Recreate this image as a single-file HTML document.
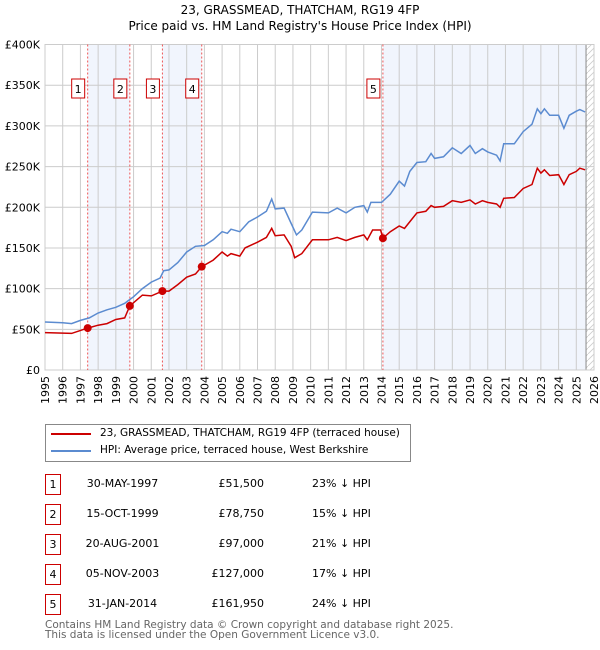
<!DOCTYPE html>
<html><head><meta charset="utf-8">
<style>
body{margin:0;background:#fff;font-family:"DejaVu Sans","Liberation Sans",sans-serif;}
#wrap{position:relative;width:600px;height:650px;overflow:hidden;}
.t{position:absolute;font-size:11px;color:#000;white-space:nowrap;}
.box{position:absolute;width:14px;height:19px;border:1px solid #c00;font-size:11px;text-align:center;line-height:19px;}
</style></head><body>
<div id="wrap">
<div class="t" style="left:0;width:600px;text-align:center;top:2px;font-size:12px;line-height:16px">23, GRASSMEAD, THATCHAM, RG19 4FP<br>Price paid vs. HM Land Registry's House Price Index (HPI)</div>
<svg id="chart" width="600" height="420" style="position:absolute;left:0;top:0"></svg>
<div style="position:absolute;left:45px;top:424px;width:364px;height:36px;border:1px solid #888;">
 <div><div style="position:absolute;left:5px;top:8px;width:40px;height:2px;background:#c00"></div><div class="t" style="left:54px;top:2px;font-size:10.5px">23, GRASSMEAD, THATCHAM, RG19 4FP (terraced house)</div></div>
 <div><div style="position:absolute;left:5px;top:25px;width:40px;height:2px;background:#5b8bd0"></div><div class="t" style="left:54px;top:19px;font-size:10.5px">HPI: Average price, terraced house, West Berkshire</div></div>
</div>
<div id="table"></div>
<div class="t" style="left:45px;top:620px;color:#666;line-height:10px;font-size:10.5px">Contains HM Land Registry data © Crown copyright and database right 2025.<br>This data is licensed under the Open Government Licence v3.0.</div>
</div>
<script>
const hpiYears=[1995,1996,1996.5,1997,1997.5,1998,1998.5,1999,1999.5,2000,2000.5,2001,2001.5,2001.7,2002,2002.5,2003,2003.5,2004,2004.5,2005,2005.3,2005.5,2006,2006.5,2007,2007.5,2007.8,2008,2008.5,2008.9,2009.2,2009.5,2010.1,2011,2011.5,2012,2012.5,2013,2013.2,2013.4,2014,2014.5,2015,2015.3,2015.6,2016,2016.5,2016.8,2017,2017.5,2018,2018.5,2019,2019.3,2019.7,2020,2020.5,2020.7,2020.9,2021.5,2022,2022.5,2022.8,2023,2023.2,2023.5,2024,2024.3,2024.6,2025,2025.2,2025.5];
const hpiValues=[59,58,57,61,64,70,74,77,82,90,100,108,113,122,123,132,145,152,153,160,170,168,173,170,182,188,195,210,198,199,180,166,172,194,193,199,193,200,202,194,206,206,216,232,226,244,255,256,266,260,262,273,266,276,266,272,268,264,257,278,278,293,302,321,315,321,313,313,297,313,318,320,317];
const ppYears=[1995,1996.5,1997.41,1998,1998.5,1999,1999.5,1999.79,2000.5,2001,2001.63,2002,2002.5,2003,2003.5,2003.85,2004.5,2005,2005.3,2005.5,2006,2006.3,2007,2007.5,2007.8,2008,2008.5,2008.9,2009.1,2009.5,2010.1,2011,2011.5,2012,2012.5,2013,2013.2,2013.5,2013.95,2014.08,2014.5,2015,2015.3,2015.7,2016,2016.5,2016.8,2017,2017.5,2018,2018.5,2019,2019.3,2019.7,2020,2020.5,2020.7,2020.9,2021.5,2022,2022.5,2022.8,2023,2023.2,2023.5,2024,2024.3,2024.6,2025,2025.2,2025.5];
const ppValues=[46,45,51.5,55,57,62,64,78.75,92,91,97,97,105,114,118,127,135,145,140,143,140,150,157,163,174,165,166,152,138,143,160,160,163,159,163,166,160,172,172,162,170,177,174,185,193,195,202,200,201,208,206,209,204,208,206,204,200,211,212,223,228,248,242,246,239,240,228,240,244,248,246];
const saleNums=["1","2","3","4","5"];
const saleYears=[1997.41,1999.79,2001.63,2003.85,2014.08];
const saleValues=[51.5,78.75,97,127,161.95];
const saleDates=["30-MAY-1997","15-OCT-1999","20-AUG-2001","05-NOV-2003","31-JAN-2014"];
const salePrices=["£51,500","£78,750","£97,000","£127,000","£161,950"];
const saleDiffs=["23% ↓ HPI","15% ↓ HPI","21% ↓ HPI","17% ↓ HPI","24% ↓ HPI"];
const yTicks=[0,50,100,150,200,250,300,350,400];
const yTickLabels=["£0","£50K","£100K","£150K","£200K","£250K","£300K","£350K","£400K"];
const xTicks=[1995,1996,1997,1998,1999,2000,2001,2002,2003,2004,2005,2006,2007,2008,2009,2010,2011,2012,2013,2014,2015,2016,2017,2018,2019,2020,2021,2022,2023,2024,2025,2026];

const X0=45,X1=594,Y0=370,Y1=44.5,dataEnd=2025.55;
const sx=y=>X0+(y-1995)/(2026-1995)*(X1-X0);
const sy=v=>Y0-v/400*(Y0-Y1);
const NS="http://www.w3.org/2000/svg";
const svg=document.getElementById('chart');
function mk(tag,attrs,name,parent){const e=document.createElementNS(NS,tag);for(const k in attrs)e.setAttribute(k,attrs[k]);


(parent||svg).appendChild(e);return e;}
const defs=mk('defs',{},'defs');
const pat=mk('pattern',{id:'hatch',width:6,height:6,patternUnits:'userSpaceOnUse'},'hatch-pattern',defs);
mk('path',{d:'M0,6 L6,0',stroke:'#ccc','stroke-width':0.8},'hatch-line',pat);
mk('rect',{x:sx(saleYears[0]),y:Y1,width:sx(saleYears[1])-sx(saleYears[0]),height:Y0-Y1,fill:'#eef3fc',opacity:0.8},'shade-band-1-2');
mk('rect',{x:sx(saleYears[2]),y:Y1,width:sx(saleYears[3])-sx(saleYears[2]),height:Y0-Y1,fill:'#eef3fc',opacity:0.8},'shade-band-3-4');
mk('rect',{x:sx(saleYears[4]),y:Y1,width:sx(dataEnd)-sx(saleYears[4]),height:Y0-Y1,fill:'#eef3fc',opacity:0.8},'shade-band-5');
mk('rect',{x:sx(dataEnd),y:Y1,width:X1-sx(dataEnd),height:Y0-Y1,fill:'url(#hatch)'},'forecast-hatch');
yTicks.forEach((v,i)=>{mk('line',{x1:X0,x2:X1,y1:sy(v),y2:sy(v),stroke:'#ccc','stroke-width':1},'y-gridline');
 const t=mk('text',{x:X0-5,y:sy(v)+4,'text-anchor':'end','font-size':11,fill:'#000'},'y-tick-label');t.textContent=yTickLabels[i];});
xTicks.forEach(y=>{mk('line',{x1:sx(y),x2:sx(y),y1:Y1,y2:Y0,stroke:'#ccc','stroke-width':1},'x-gridline');
 const t=mk('text',{transform:`translate(${sx(y)+4},${Y0+6}) rotate(-90)`,'text-anchor':'end','font-size':11,fill:'#000'},'x-tick-label');t.textContent=y;});
mk('line',{x1:sx(dataEnd),x2:sx(dataEnd),y1:Y1,y2:Y0,stroke:'#888','stroke-width':1},'data-end-line');
mk('rect',{x:X0,y:Y1,width:X1-X0,height:Y0-Y1,fill:'none',stroke:'#ccc'},'plot-border');
saleYears.forEach((y,i)=>{mk('line',{x1:sx(y),x2:sx(y),y1:Y1,y2:Y0,stroke:'#e55','stroke-width':1,'stroke-dasharray':'2,2'},'sale-line-'+saleNums[i]);
 const g=mk('g',{},'sale-label-'+saleNums[i]);
 mk('rect',{x:sx(y)-16,y:79,width:13,height:19,fill:'#fff',stroke:'#c00'},'sale-label-box',g);
 const t=mk('text',{x:sx(y)-9.5,y:93,'text-anchor':'middle','font-size':11},'sale-label-text',g);t.textContent=saleNums[i];});
const path=(xs,vs)=>xs.map((y,i)=>(i?'L':'M')+sx(y).toFixed(1)+','+sy(vs[i]).toFixed(1)).join('');
mk('path',{d:path(hpiYears,hpiValues),fill:'none',stroke:'#5b8bd0','stroke-width':1.5},'hpi-line');
mk('path',{d:path(ppYears,ppValues),fill:'none',stroke:'#c00','stroke-width':1.5},'property-price-line');
saleYears.forEach((y,i)=>mk('circle',{cx:sx(y),cy:sy(saleValues[i]),r:4,fill:'#c00'},'sale-point-'+saleNums[i]));
const tb=document.getElementById('table');
saleNums.forEach((n,i)=>{const top=474+i*30;
 const row=document.createElement('div');
 
 
 row.innerHTML=`<div class="box" style="left:45px;top:${top}px">${n}</div>
 <div class="t" style="left:70px;width:105px;text-align:center;top:${top+3}px">${saleDates[i]}</div>
 <div class="t" style="left:180px;width:84px;text-align:right;top:${top+3}px">${salePrices[i]}</div>
 <div class="t" style="left:312px;top:${top+3}px">${saleDiffs[i]}</div>`;
 tb.appendChild(row);});
</script>
</body></html>
